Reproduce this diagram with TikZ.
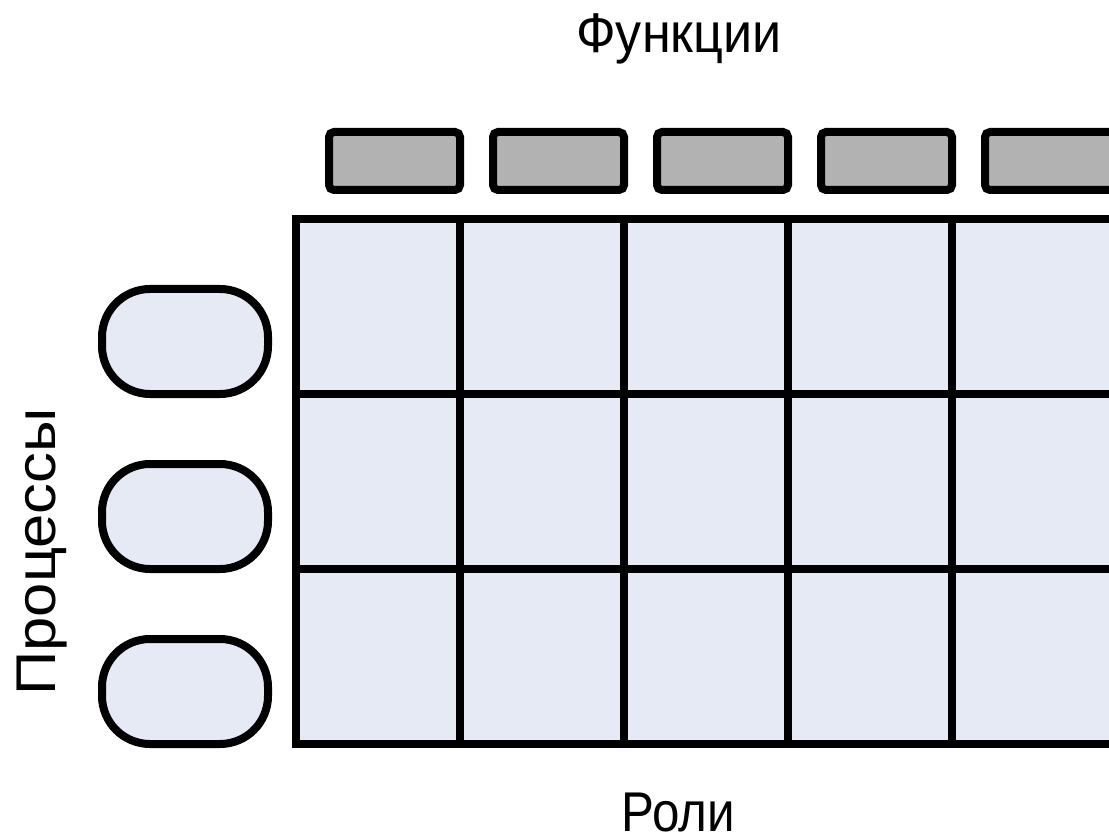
\documentclass[tikz,border=0pt]{standalone}
\usepackage{fontspec}
\setmainfont{Liberation Sans}
\usetikzlibrary{positioning}
\definecolor{cellBlue}{RGB}{229,234,245}
\definecolor{funcGray}{RGB}{178,178,178}

\begin{document}
\begin{tikzpicture}[
  x=1pt, y=-1pt,
  cell/.style={draw, line width=8pt, fill=cellBlue, minimum width=164pt,
               minimum height=175pt, inner sep=0pt, outer sep=0pt},
  func/.style={draw, line width=8pt, fill=funcGray, rounded corners=5pt,
               minimum width=131pt, minimum height=58pt, inner sep=0pt},
  proc/.style={draw, line width=8pt, fill=cellBlue, rounded corners=48pt,
               minimum width=166pt, minimum height=105pt, inner sep=0pt},
  title/.style={anchor=base, inner sep=0pt, font=\fontsize{56}{60}\selectfont},
]
  \useasboundingbox (0,0) rectangle (1109,837);
  \clip (0,0) rectangle (1109,837);

  % matrix of roles x functions
  \foreach \r in {1,2,3}
    \foreach \c in {1,...,5}
      \node[cell] (cell-\r-\c) at ({296+164*(\c-0.5)}, {219+175*(\r-0.5)}) {};

  % functions
  \foreach \c in {1,...,5}
    \node[func] (fn\c) at ({394.5+164*(\c-1)}, 161) {};

  % processes
  \foreach \r in {1,2,3}
    \node[proc] (proc\r) at (185, {341.5+175*(\r-1)}) {};

  \node[title] (functitle) at (679,53) {\scalebox{0.93}[1]{Функции}};
  \node[title] (roletitle) at (678,831) {\scalebox{0.88}[1]{Роли}};
  \node[title, rotate=90] (proctitle) at (55,552) {\scalebox{1.1}[1]{Процессы}};
\end{tikzpicture}
\end{document}
